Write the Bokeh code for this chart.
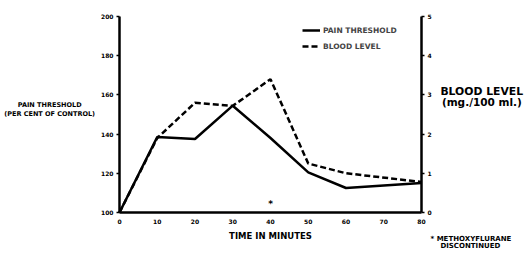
from bokeh.plotting import figure
from bokeh.models import Range1d, LinearAxis, Label, Legend, LegendItem, FixedTicker
from bokeh.embed import file_html
from bokeh.resources import INLINE

time_min = [0, 10, 20, 30, 40, 50, 60, 80]
pain_threshold = [100, 138.5, 137.5, 154.5, 138, 120.5, 112.5, 115]
blood_level = [0, 1.9, 2.8, 2.72, 3.4, 1.25, 1.0, 0.78]

x_ticks = [0, 10, 20, 30, 40, 50, 60, 70, 80]
left_ticks = [100, 120, 140, 160, 180, 200]
right_ticks = [0, 1, 2, 3, 4, 5]

FONT = "DejaVu Sans"

# canvas geometry (pixels) and where the axes box sits inside it
W, H = 524, 252
BOX_L, BOX_R, BOX_T, BOX_B = 119, 421, 16, 212

x0, x1 = x_ticks[0], x_ticks[-1]
y0, y1 = left_ticks[0], left_ticks[-1]
b0, b1 = right_ticks[0], right_ticks[-1]
xpp = (x1 - x0) / (BOX_R - BOX_L)
ypp = (y1 - y0) / (BOX_B - BOX_T)
bpp = (b1 - b0) / (BOX_B - BOX_T)

p = figure(width=W, height=H, output_backend="svg", toolbar_location=None,
           x_range=Range1d(x0 - BOX_L * xpp, x1 + (W - BOX_R) * xpp),
           y_range=Range1d(y0 - (H - BOX_B) * ypp, y1 + BOX_T * ypp),
           min_border=0, min_border_left=0, min_border_right=0,
           min_border_top=0, min_border_bottom=0,
           x_axis_location=None, y_axis_location=None)
p.outline_line_color = None
p.xgrid.visible = False
p.ygrid.visible = False
p.background_fill_color = "white"
p.border_fill_color = "white"
p.extra_y_ranges = {"blood": Range1d(b0 - (H - BOX_B) * bpp, b1 + BOX_T * bpp)}

def style_axis(ax):
    ax.axis_line_width = 2.5
    ax.axis_line_color = "black"
    ax.major_tick_line_width = 1.5
    ax.major_tick_in = 0
    ax.major_tick_out = 3
    ax.minor_tick_line_color = None
    ax.major_label_text_font = FONT
    ax.major_label_text_font_style = "bold"
    ax.major_label_text_font_size = "6px"
    ax.major_label_text_color = "black"
    ax.major_label_standoff = 3

xa = LinearAxis(ticker=FixedTicker(ticks=x_ticks), fixed_location=y0, bounds=(x0, x1))
style_axis(xa)
xa.major_tick_line_color = None
p.add_layout(xa, "below")

ya = LinearAxis(ticker=FixedTicker(ticks=left_ticks), fixed_location=x0, bounds=(y0, y1))
style_axis(ya)
p.add_layout(ya, "left")

ra = LinearAxis(y_range_name="blood", ticker=FixedTicker(ticks=right_ticks),
                fixed_location=x1, bounds=(b0, b1))
style_axis(ra)
p.add_layout(ra, "right")

r1 = p.line(time_min, pain_threshold, line_color="black", line_width=2.5)
r2 = p.line(time_min, blood_level, y_range_name="blood", line_color="black",
            line_width=2.5, line_dash="6 3")

legend = Legend(items=[LegendItem(label="PAIN THRESHOLD", renderers=[r1]),
                       LegendItem(label="BLOOD LEVEL", renderers=[r2])],
                location=(302, 200), padding=0, margin=0, spacing=4,
                glyph_width=18, glyph_height=12, label_height=12,
                label_standoff=3, border_line_color=None, background_fill_alpha=0,
                label_text_font=FONT, label_text_font_style="bold",
                label_text_font_size="7.5px")
p.add_layout(legend)

def add_text(x, y, text, size, align="center", bold=True):
    p.add_layout(Label(x=x, y=y, text=text, text_font=FONT, text_font_size=size,
                       text_font_style="bold" if bold else "normal",
                       text_align=align, text_baseline="middle", text_color="black"))

# marker for discontinuation
add_text(40, 104.5, "*", "9px")
# axis titles
add_text(-18.5, 155.1, "PAIN THRESHOLD", "6.5px")
add_text(-18.5, 150.5, "(PER CENT OF CONTROL)", "6.5px")
add_text(85.0, 161.7, "BLOOD LEVEL", "10.8px", align="left")
add_text(85.4, 156.4, "(mg./100 ml.)", "10.5px", align="left")
add_text(40, 87.8, "TIME IN MINUTES", "8.5px")
# footnote
add_text(82.4, 86.7, "* METHOXYFLURANE", "7px", align="left")
add_text(85.0, 82.7, "DISCONTINUED", "7px", align="left")

open("out.html", "w").write(file_html(p, INLINE))
